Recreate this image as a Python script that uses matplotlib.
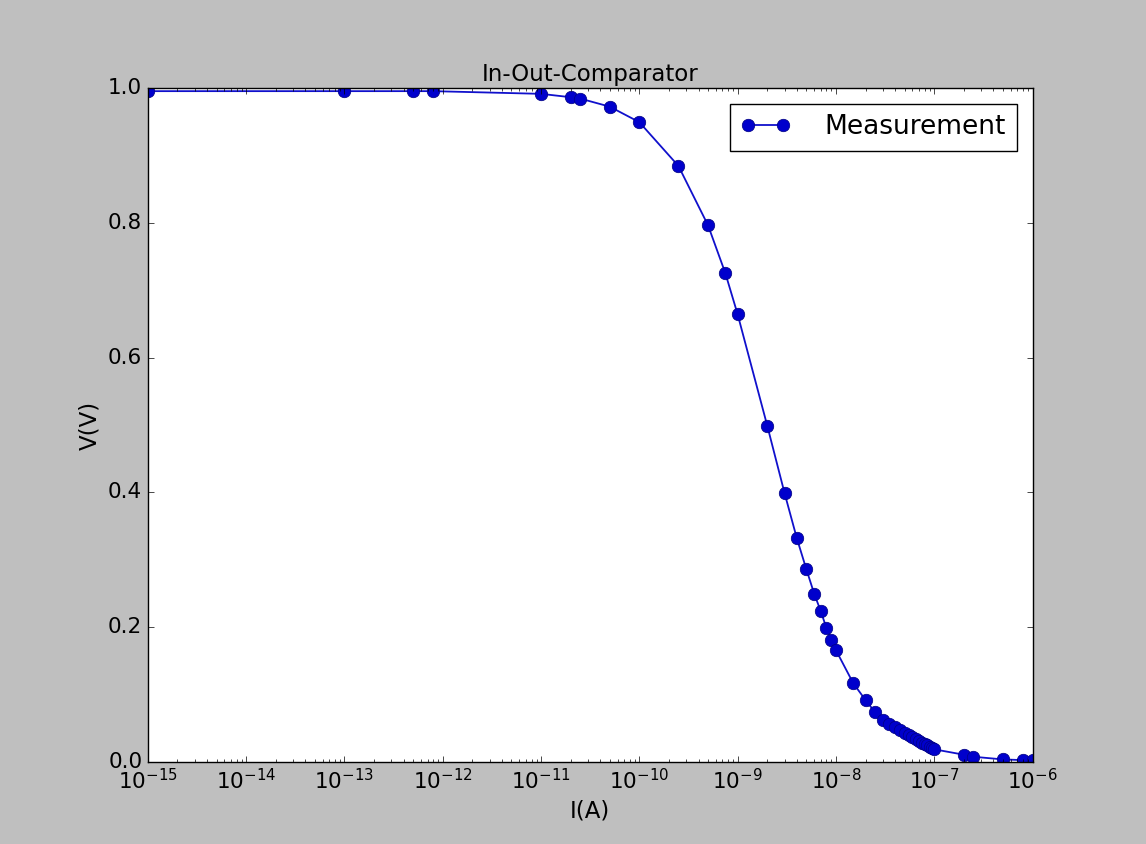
import numpy as np
import matplotlib
matplotlib.use("Agg")
import matplotlib.pyplot as plt

plt.style.use('classic')
plt.rcParams['mathtext.fontset'] = 'dejavusans'
plt.rcParams['font.size'] = 15.5

# corrente (A) e tensione di uscita (V)
corrente = [1e-15, 1e-13, 5e-13, 8e-13, 1e-11, 2e-11, 2.5e-11, 5e-11, 1e-10,
            2.5e-10, 5e-10, 7.5e-10, 1e-9, 2e-9, 3e-9, 4e-9, 5e-9, 6e-9,
            7e-9, 8e-9, 9e-9, 1e-8, 1.5e-8, 2e-8, 2.5e-8, 3e-8, 3.5e-8,
            4e-8, 4.5e-8, 5e-8, 5.5e-8, 6e-8, 6.5e-8, 7e-8, 7.5e-8, 8e-8,
            8.5e-8, 9e-8, 9.5e-8, 1e-7, 2e-7, 2.5e-7, 5e-7, 8e-7, 1e-6]
tensione = [0.995, 0.995, 0.995, 0.995, 0.991, 0.986, 0.984, 0.972, 0.949,
            0.884, 0.796, 0.725, 0.664, 0.499, 0.399, 0.332, 0.286, 0.250,
            0.224, 0.199, 0.181, 0.166, 0.117, 0.092, 0.074, 0.062, 0.056,
            0.052, 0.047, 0.043, 0.040, 0.037, 0.034, 0.031, 0.029, 0.027,
            0.025, 0.023, 0.021, 0.019, 0.011, 0.008, 0.004, 0.003, 0.003]

fig = plt.figure(figsize=(11.46, 8.44), dpi=100, facecolor='#bfbfbf')
ax = fig.add_axes([0.129, 0.097, 0.772, 0.799])

ax.plot(corrente, tensione, 'o-', color='#1010cc', markerfacecolor='#0000cc',
        markeredgecolor='#000080', markersize=9, linewidth=1.3,
        label='Measurement')

ax.set_xscale('log')
ax.set_xlim(1e-15, 1e-6)
ax.set_ylim(0, 1)
ax.set_title('In-Out-Comparator', fontsize=16.5)
ax.set_xlabel('I(A)', fontsize=16.5)
ax.set_ylabel('V(V)', fontsize=16.5)
ax.legend(loc='upper right', numpoints=2, fontsize=19, handlelength=1.9,
          handletextpad=1.3, borderaxespad=0.6)

fig.savefig('out.png', dpi=100, facecolor=fig.get_facecolor())
